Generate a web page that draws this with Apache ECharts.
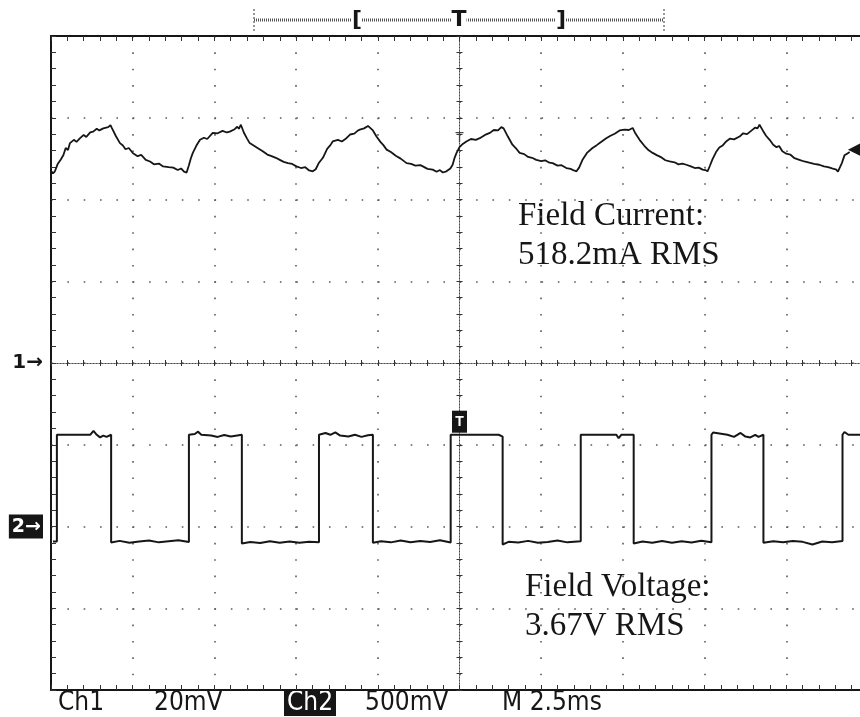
<!DOCTYPE html>
<html>
<head>
<meta charset="utf-8">
<script src="https://cdn.jsdelivr.net/npm/echarts@6/dist/echarts.min.js"></script>
<style>
  html, body { margin: 0; padding: 0; background: #fff; }
  #chart { width: 860px; height: 717px; }
</style>
</head>
<body>
<div id="chart"></div>
<script>
// time in ms relative to trigger, 2.5 ms/div, 10 div
const timeRange = [-12.5, 12.5]
const timePerDiv = 2.5
// Ch1: 20 mV/div, ground at centre; Ch2: 500 mV/div, ground 2 div below centre
const ch1Range = [-80, 80]
const ch1PerDiv = 20
const ch2Range = [-1000, 3000]
const ch2PerDiv = 500

// field current (Ch1) [ms, mV]
const ch1Trace = [
  [-12.50, 47.0], [-12.44, 46.4], [-12.38, 46.9], [-12.30, 48.6], [-12.20, 49.8], [-12.12, 50.9], [-12.05, 52.6],
  [-11.98, 52.1], [-11.92, 53.8], [-11.80, 54.6], [-11.72, 54.1], [-11.61, 55.0], [-11.50, 55.8], [-11.42, 55.3],
  [-11.30, 56.4], [-11.21, 56.6], [-11.10, 57.3], [-11.02, 56.9], [-10.90, 57.4], [-10.75, 57.7], [-10.68, 58.2],
  [-10.64, 57.5], [-10.52, 55.6], [-10.39, 53.8], [-10.30, 53.2], [-10.22, 52.3], [-10.12, 52.6], [-9.99, 51.3],
  [-9.85, 50.6], [-9.74, 50.9], [-9.60, 49.7], [-9.47, 49.3], [-9.35, 48.6], [-9.20, 48.8], [-9.07, 48.1],
  [-8.90, 47.9], [-8.76, 47.8], [-8.62, 47.2], [-8.52, 47.6], [-8.43, 46.8], [-8.35, 46.6], [-8.28, 48.4],
  [-8.22, 50.1], [-8.16, 51.4], [-8.05, 53.2], [-7.94, 54.6], [-7.82, 55.1], [-7.72, 54.8], [-7.55, 56.3],
  [-7.40, 56.2], [-7.25, 56.8], [-7.12, 56.4], [-7.03, 56.6], [-6.88, 57.2], [-6.80, 57.8], [-6.75, 57.3],
  [-6.69, 58.3], [-6.60, 56.4], [-6.50, 54.9], [-6.42, 53.8], [-6.30, 53.2], [-6.18, 52.6], [-6.02, 51.8],
  [-5.88, 51.0], [-5.75, 50.6], [-5.62, 50.2], [-5.50, 49.7], [-5.38, 49.2], [-5.25, 48.9], [-5.12, 48.7],
  [-4.99, 48.1], [-4.85, 47.7], [-4.72, 47.9], [-4.60, 47.1], [-4.49, 46.9], [-4.40, 47.4], [-4.30, 49.0],
  [-4.18, 50.2], [-4.05, 52.4], [-3.95, 53.3], [-3.88, 54.2], [-3.72, 54.6], [-3.60, 54.2], [-3.46, 55.0],
  [-3.35, 55.9], [-3.22, 56.1], [-3.12, 56.8], [-3.05, 57.1], [-2.92, 57.4], [-2.80, 58.0], [-2.75, 58.3],
  [-2.65, 56.9], [-2.54, 55.4], [-2.42, 54.1], [-2.33, 53.3], [-2.23, 52.2], [-2.10, 51.6], [-1.95, 50.7],
  [-1.80, 50.0], [-1.62, 48.9], [-1.48, 48.7], [-1.35, 48.3], [-1.20, 48.4], [-1.12, 48.1], [-0.98, 47.5],
  [-0.82, 47.3], [-0.70, 46.8], [-0.60, 47.2], [-0.51, 46.6], [-0.40, 46.9], [-0.28, 47.6], [-0.21, 48.5],
  [-0.15, 50.2], [-0.09, 51.4], [0.00, 52.8], [0.10, 53.6], [0.21, 54.2], [0.35, 54.8], [0.50, 54.6],
  [0.62, 55.0], [0.78, 55.8], [0.93, 56.3], [1.05, 57.0], [1.18, 56.9], [1.28, 57.7], [1.35, 57.4],
  [1.48, 55.4], [1.62, 53.4], [1.75, 52.3], [1.84, 51.4], [1.98, 51.1], [2.10, 50.4], [2.22, 50.2],
  [2.35, 49.7], [2.50, 49.4], [2.62, 49.6], [2.75, 49.0], [2.85, 48.9], [3.00, 48.3], [3.12, 48.4],
  [3.27, 47.7], [3.40, 47.5], [3.50, 47.1], [3.58, 46.9], [3.66, 47.8], [3.77, 49.8], [3.90, 51.4],
  [4.07, 52.6], [4.20, 53.3], [4.30, 53.9], [4.49, 55.0], [4.62, 55.6], [4.75, 56.1], [4.90, 56.9],
  [5.05, 57.1], [5.18, 57.0], [5.30, 57.5], [5.38, 56.2], [5.51, 54.6], [5.65, 53.2], [5.78, 52.1],
  [5.91, 51.4], [6.05, 50.8], [6.18, 50.3], [6.30, 49.6], [6.43, 49.3], [6.58, 49.1], [6.70, 48.6],
  [6.82, 48.8], [6.94, 48.5], [7.08, 48.1], [7.20, 47.7], [7.32, 47.8], [7.44, 47.3], [7.52, 47.2],
  [7.59, 46.9], [7.66, 48.2], [7.74, 49.8], [7.85, 51.6], [7.95, 52.7], [8.05, 53.2], [8.16, 54.2],
  [8.28, 54.9], [8.40, 54.7], [8.57, 55.4], [8.68, 56.2], [8.80, 56.0], [8.97, 57.1], [9.05, 57.6],
  [9.12, 57.4], [9.18, 58.3], [9.28, 56.9], [9.38, 55.6], [9.49, 54.6], [9.60, 53.4], [9.70, 52.8],
  [9.78, 53.1], [9.88, 51.8], [10.00, 51.2], [10.12, 51.0], [10.25, 50.1], [10.40, 49.7], [10.55, 49.3],
  [10.70, 49.0], [10.85, 48.7], [11.01, 48.5], [11.15, 48.1], [11.28, 47.9], [11.40, 47.6], [11.53, 47.3],
  [11.58, 46.8], [11.63, 46.6], [11.70, 48.9], [11.78, 50.8], [11.86, 51.2], [11.94, 51.6]
]

// field voltage (Ch2) [ms, mV]
const ch2Trace = [
  [-12.44, -92], [-12.32, -92], [-12.32, 561], [-11.6, 561], [-11.3, 561], [-11.2, 585], [-11.1, 561],
  [-11.0, 545], [-10.9, 556], [-10.8, 548], [-10.66, 561],
  [-10.66, -98], [-10.4, -88], [-10.1, -100], [-9.8, -92], [-9.5, -86], [-9.2, -97], [-8.9, -90], [-8.6, -84], [-8.28, -95],
  [-8.28, 561], [-8.1, 566], [-8.0, 580], [-7.9, 561], [-7.6, 556], [-7.4, 548], [-7.2, 560], [-7.0, 550], [-6.8, 557], [-6.66, 561],
  [-6.66, -104], [-6.4, -95], [-6.1, -101], [-5.8, -90], [-5.5, -99], [-5.2, -92], [-4.9, -100], [-4.6, -93], [-4.30, -97],
  [-4.30, 561], [-4.1, 572], [-3.95, 561], [-3.8, 576], [-3.65, 556], [-3.4, 550], [-3.2, 561], [-3.0, 548], [-2.8, 558], [-2.65, 561],
  [-2.65, -100], [-2.4, -90], [-2.1, -97], [-1.8, -86], [-1.5, -96], [-1.2, -88], [-0.9, -95], [-0.6, -84], [-0.27, -98],
  [-0.27, 561], [1.2, 561], [1.32, 550],
  [1.32, -110], [1.5, -94], [1.8, -98], [2.1, -88], [2.4, -100], [2.7, -95], [3.0, -86], [3.3, -97], [3.71, -90],
  [3.71, 561], [4.8, 561], [4.87, 540], [4.95, 561], [5.33, 561],
  [5.33, -104], [5.6, -92], [5.9, -100], [6.2, -89], [6.5, -99], [6.8, -90], [7.1, -98], [7.4, -87], [7.71, -96],
  [7.71, 561], [7.76, 575], [8.2, 561], [8.4, 548], [8.6, 572], [8.75, 550], [8.9, 545], [9.05, 560], [9.15, 548], [9.30, 561],
  [9.30, -100], [9.6, -90], [9.9, -96], [10.2, -88], [10.5, -94], [10.8, -110], [11.1, -92], [11.4, -97], [11.72, -88],
  [11.72, 561], [11.78, 578], [11.9, 561], [12.5, 561]
]

// readout strip under the graticule
const readouts = [
  { text: 'Ch1', x: 58 },
  { text: '20mV', x: 154 },
  { text: 'Ch2', x: 287, boxed: true },
  { text: '500mV', x: 365 },
  { text: 'M 2.5ms', x: 502 }
]
const notes = [
  { lines: ['Field Current:', '518.2mA RMS'], x: 518, y: 216 },
  { lines: ['Field Voltage:', '3.67V RMS'], x: 525, y: 587 }
]

const ink = '#161616'
const dotGrid = { color: '#5a5a5a', width: 1.6, type: [1.6, 14.75] }

function frameAxis(extra) {
  return Object.assign({
    type: 'value',
    axisLine: { show: true, onZero: false, lineStyle: { color: ink, width: 2 } },
    axisTick: { show: true, inside: true, length: 5, lineStyle: { color: '#333', width: 1 } },
    minorTick: { show: true, splitNumber: 5, length: 5, lineStyle: { color: '#333', width: 1 } },
    axisLabel: { show: false },
    splitLine: { show: false }
  }, extra)
}

function centreAxis(extra, inside) {
  return Object.assign({
    type: 'value',
    axisLine: { show: true, onZero: true, onZeroAxisIndex: 0, lineStyle: { color: '#444', width: 1, type: [1, 2] } },
    axisTick: { show: true, inside: inside, length: 3, lineStyle: { color: '#333', width: 1 } },
    minorTick: { show: true, splitNumber: 5, length: 3, lineStyle: { color: '#333', width: 1 } },
    axisLabel: { show: false },
    splitLine: { show: false }
  }, extra)
}

const xBase = { min: timeRange[0], max: timeRange[1], interval: timePerDiv }
const ch1Base = { min: ch1Range[0], max: ch1Range[1], interval: ch1PerDiv }

const graphic = []
// record position bracket at the top
graphic.push({ type: 'line', shape: { x1: 254, y1: 20, x2: 664, y2: 20 }, style: { stroke: '#555', lineWidth: 3, lineDash: [1, 1] } })
graphic.push({ type: 'line', shape: { x1: 254, y1: 9, x2: 254, y2: 31 }, style: { stroke: '#777', lineWidth: 1.5, lineDash: [2, 2] } })
graphic.push({ type: 'line', shape: { x1: 664, y1: 9, x2: 664, y2: 31 }, style: { stroke: '#777', lineWidth: 1.5, lineDash: [2, 2] } })
;[['[', 357], ['T', 459], [']', 561]].forEach(function (b) {
  graphic.push({
    type: 'text', x: b[1], y: 20, z: 10,
    style: { text: b[0], fill: ink, font: 'bold 22px "DejaVu Sans"', align: 'center', verticalAlign: 'middle', backgroundColor: '#fff' }
  })
})
readouts.forEach(function (r) {
  if (r.boxed) {
    graphic.push({ type: 'rect', shape: { x: r.x - 3, y: 690, width: 52, height: 26 }, style: { fill: ink } })
  }
  graphic.push({
    type: 'text', x: r.x, y: 703, scaleX: 0.9,
    style: { text: r.text, fill: r.boxed ? '#fff' : ink, font: '26px "DejaVu Sans"', verticalAlign: 'middle' }
  })
})
notes.forEach(function (n) {
  n.lines.forEach(function (line, i) {
    graphic.push({
      type: 'text', x: n.x, y: n.y + i * 39,
      style: { text: line, fill: ink, font: '33px "Liberation Serif"', verticalAlign: 'middle' }
    })
  })
})

const chart = echarts.init(document.getElementById('chart'))
chart.setOption({
  animation: false,
  backgroundColor: '#fff',
  grid: { left: 51, top: 36, width: 817, height: 654, containLabel: false, outerBoundsMode: 'none' },
  xAxis: [
    frameAxis(Object.assign({ position: 'bottom', splitLine: { show: true, lineStyle: dotGrid } }, xBase)),
    frameAxis(Object.assign({ position: 'top' }, xBase)),
    centreAxis(Object.assign({ position: 'bottom' }, xBase), true),
    centreAxis(Object.assign({ position: 'bottom' }, xBase), false)
  ],
  yAxis: [
    frameAxis(Object.assign({
      position: 'left',
      splitLine: { show: true, lineStyle: dotGrid },
      axisLabel: {
        show: true, margin: 8, color: ink, fontSize: 20, fontWeight: 'bold', fontFamily: 'DejaVu Sans',
        formatter: function (v) { return v === 0 ? '1\u2192' : '' }
      }
    }, ch1Base)),
    {
      type: 'value', position: 'left',
      min: ch2Range[0], max: ch2Range[1], interval: ch2PerDiv,
      axisLine: { show: false, onZero: false },
      axisTick: { show: false },
      splitLine: { show: false },
      axisLabel: {
        show: true, margin: 8,
        formatter: function (v) { return v === 0 ? '{b|2\u2192}' : '' },
        rich: { b: { backgroundColor: ink, color: '#fff', fontSize: 19, fontWeight: 'bold', fontFamily: 'DejaVu Sans', padding: [3, 2, 2, 3] } }
      }
    },
    centreAxis(Object.assign({ position: 'left' }, ch1Base), true),
    centreAxis(Object.assign({ position: 'left' }, ch1Base), false)
  ],
  graphic: graphic,
  series: [
    {
      name: 'Ch1',
      type: 'line',
      xAxisIndex: 0,
      yAxisIndex: 0,
      showSymbol: false,
      clip: true,
      lineStyle: { color: ink, width: 1.8 },
      data: ch1Trace,
      markPoint: {
        symbolKeepAspect: false,
        data: [
          { coord: [12.1, 52.2], symbol: 'triangle', symbolRotate: 90, symbolSize: 14, itemStyle: { color: ink }, label: { show: false } },
          { coord: [0, 54.9], symbol: 'rect', symbolSize: 0, label: { show: true, formatter: 'T', color: '#444', fontSize: 14, position: 'inside' } }
        ]
      }
    },
    {
      name: 'Ch2',
      type: 'line',
      xAxisIndex: 0,
      yAxisIndex: 1,
      showSymbol: false,
      clip: true,
      lineStyle: { color: ink, width: 2 },
      data: ch2Trace,
      markPoint: {
        data: [
          { coord: [0, 641], symbol: 'rect', symbolSize: [15, 22], itemStyle: { color: ink },
            label: { show: true, formatter: 'T', color: '#fff', fontSize: 14, fontWeight: 'bold', position: 'inside' } }
        ]
      }
    }
  ]
})
</script>
</body>
</html>
